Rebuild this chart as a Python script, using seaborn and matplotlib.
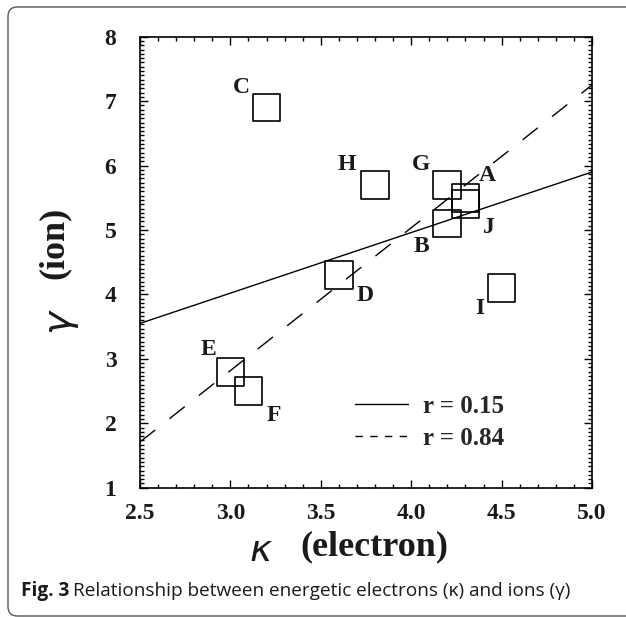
import matplotlib
matplotlib.use("Agg")
import matplotlib.pyplot as plt
import seaborn as sns
import pandas as pd
from matplotlib.lines import Line2D
from matplotlib.patches import FancyBboxPatch
from matplotlib.ticker import MultipleLocator, AutoMinorLocator

# ---- data ----
labels = ['A', 'B', 'C', 'D', 'E', 'F', 'G', 'H', 'I', 'J']
kappa = [4.3, 4.2, 3.2, 3.6, 3.0, 3.1, 4.2, 3.8, 4.5, 4.3]
gamma = [5.5, 5.1, 6.9, 4.3, 2.8, 2.5, 5.7, 5.7, 4.1, 5.4]
fit_x = [2.5, 5.0]
fit_solid = [3.55, 5.90]   # r = 0.15
fit_dashed = [1.71, 7.25]  # r = 0.84
legend_labels = ['r = 0.15', 'r = 0.84']
caption_bold = 'Fig. 3'
caption_text = 'Relationship between energetic electrons (\u03ba) and ions (\u03b3)'

sns.set_theme(style='ticks')
plt.rcParams['font.family'] = ['Liberation Serif', 'DejaVu Serif']

W, H = 626, 617
fig = plt.figure(figsize=(W / 100, H / 100), dpi=100)


def fx(px):
    return px / W


def fy(py):
    return 1 - py / H


ax_l, ax_r, ax_t, ax_b = 140, 592, 36.7, 487.7
ax = fig.add_axes([fx(ax_l), fy(ax_b), (ax_r - ax_l) / W, (ax_b - ax_t) / H])

pts = pd.DataFrame({'kappa': kappa, 'gamma': gamma, 'label': labels})
lines = pd.DataFrame({'x': fit_x + fit_x,
                      'y': fit_solid + fit_dashed,
                      'fit': [legend_labels[0]] * 2 + [legend_labels[1]] * 2})

sns.lineplot(data=lines[lines.fit == legend_labels[0]], x='x', y='y', ax=ax,
             color='black', lw=1.0, legend=False)
sns.lineplot(data=lines[lines.fit == legend_labels[1]], x='x', y='y', ax=ax,
             color='black', lw=1.0, legend=False)
ax.lines[-1].set_dashes((14, 13))

sns.scatterplot(data=pts, x='kappa', y='gamma', ax=ax, marker='s', s=400,
                facecolor='none', edgecolor='black', linewidth=1.2, legend=False)

# point labels (offsets in pixels)
offsets = {'A': (22, -22), 'B': (-26, 23), 'C': (-25, -20), 'D': (26, 20),
           'E': (-22, -22), 'F': (25, 24), 'G': (-26, -20), 'H': (-28, -20),
           'I': (-22, 21), 'J': (23, 23)}
for lab, xv, yv in zip(labels, kappa, gamma):
    dx, dy = offsets[lab]
    ax.annotate(lab, (xv, yv), xytext=(dx * 0.72, -dy * 0.72),
                textcoords='offset points', ha='center', va='center',
                fontsize=17, fontweight='bold', color='#1a1a1a')

ax.set_xlim(2.5, 5.0)
ax.set_ylim(1, 8)
ax.xaxis.set_major_locator(MultipleLocator(0.5))
ax.xaxis.set_minor_locator(MultipleLocator(0.1))
ax.yaxis.set_major_locator(MultipleLocator(1))
ax.yaxis.set_minor_locator(AutoMinorLocator(15))
ax.xaxis.set_major_formatter(plt.FormatStrFormatter('%.1f'))
ax.tick_params(which='both', direction='in', top=True, right=True, color='black', width=1.0)
ax.tick_params(which='major', length=6)
ax.tick_params(which='minor', length=3)
ax.tick_params(axis='y', which='major', pad=17)
ax.tick_params(axis='x', which='major', pad=11)
for t in ax.get_xticklabels() + ax.get_yticklabels():
    t.set_fontsize(17)
    t.set_fontweight('bold')
    t.set_color('#1a1a1a')
for sp in ax.spines.values():
    sp.set_linewidth(1.2)
    sp.set_color('black')
ax.set_xlabel('')
ax.set_ylabel('')

handles = [Line2D([], [], color='black', lw=1.0),
           Line2D([], [], color='black', lw=1.0, dashes=(5.3, 5.3))]
ax.legend(handles, legend_labels, loc='upper left',
          bbox_to_anchor=((355 - ax_l) / (ax_r - ax_l), (ax_b - 395) / (ax_b - ax_t)),
          frameon=False, borderpad=0, borderaxespad=0, handlelength=2.1,
          handletextpad=0.62, labelspacing=0.35,
          prop={'family': 'Liberation Serif', 'weight': 'bold', 'size': 18})

# axis labels
fig.text(fx(261), fy(551), '\u03ba', fontsize=27, family='DejaVu Sans', style='italic',
         ha='center', va='center', color='#1a1a1a')
fig.text(fx(374), fy(547), '(electron)', fontsize=26, fontweight='bold',
         ha='center', va='center', color='#1a1a1a')
fig.text(fx(57), fy(320), '\u03b3', fontsize=28, family='DejaVu Sans', style='italic',
         ha='center', va='center', rotation=90, color='#1a1a1a')
fig.text(fx(54), fy(243), '(ion)', fontsize=26, fontweight='bold',
         ha='center', va='center', rotation=90, color='#1a1a1a')

# caption
t1 = fig.text(fx(21), fy(596), caption_bold, fontsize=13.7, fontweight='bold',
              family='Open Sans', ha='left', va='baseline', color='#1a1a1a')
fig.canvas.draw()
bb = t1.get_window_extent()
fig.text((bb.x1 + 4) / W, fy(596), caption_text, fontsize=13.7,
         family=['Open Sans', 'DejaVu Sans'], ha='left', va='baseline', color='#1a1a1a')

# frame
frame = FancyBboxPatch((fx(8), fy(616)), 1.2, fy(7) - fy(616),
                       boxstyle='round,pad=0,rounding_size=0.015',
                       transform=fig.transFigure, facecolor='none',
                       edgecolor='#555555', lw=1.0, clip_on=False)
fig.add_artist(frame)

fig.savefig('out.png', dpi=100)
